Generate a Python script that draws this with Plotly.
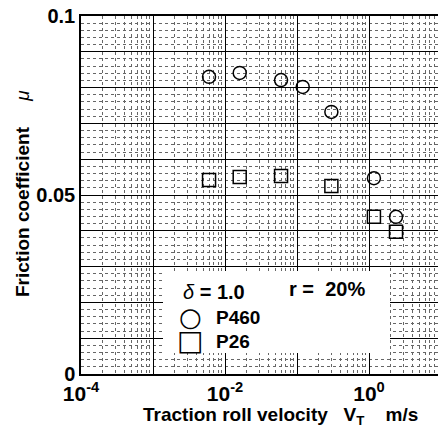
import plotly.graph_objects as go

# Data
p460_v = [0.006, 0.016, 0.06, 0.12, 0.30, 1.17, 2.37]
p460_mu = [0.0830, 0.0841, 0.0821, 0.0802, 0.0732, 0.0547, 0.0439]
p26_v = [0.006, 0.016, 0.06, 0.30, 1.17, 2.37]
p26_mu = [0.0542, 0.0550, 0.0553, 0.0525, 0.0439, 0.0397]

x_major_exp = [-4, -3, -2, -1, 0, 1]
x_major_text = ["<b>10<sup>-4</sup></b>", "", "<b>10<sup>-2</sup></b>", "", "<b>10<sup>0</sup></b>", ""]
y_major = [0, 0.01, 0.02, 0.03, 0.04, 0.05, 0.06, 0.07, 0.08, 0.09, 0.1]
y_major_text = ["<b>0</b>", "", "", "", "", "<b>0.05</b>", "", "", "", "", "<b>0.1</b>"]

FONT = "Liberation Sans"

fig = go.Figure()
fig.add_trace(go.Scatter(x=p460_v, y=p460_mu, mode="markers", name="P460",
                         marker=dict(symbol="circle-open", size=13, color="black",
                                     line=dict(width=1.5, color="black"))))
fig.add_trace(go.Scatter(x=p26_v, y=p26_mu, mode="markers", name="P26",
                         marker=dict(symbol="square-open", size=13, color="black",
                                     line=dict(width=1.5, color="black"))))

minor_x = [m * 10 ** e for e in range(-4, 1) for m in range(2, 10)]

fig.update_xaxes(type="log", range=[-4, 0.958],
                 tickmode="array", tickvals=[10 ** e for e in x_major_exp], ticktext=x_major_text,
                 showgrid=True, gridcolor="black", gridwidth=1.3,
                 showline=True, linecolor="black", linewidth=1.5, mirror=True,
                 ticks="", zeroline=False,
                 tickfont=dict(family=FONT, size=21, color="black"),
                 minor=dict(tickmode="array", tickvals=minor_x, showgrid=True,
                            gridcolor="#666", griddash="dot", gridwidth=1))
fig.update_yaxes(range=[0, 0.1], tickmode="array", tickvals=y_major, ticktext=y_major_text,
                 showgrid=True, gridcolor="black", gridwidth=1.3,
                 showline=True, linecolor="black", linewidth=1.5, mirror=False,
                 ticks="", zeroline=False,
                 tickfont=dict(family=FONT, size=20, color="black"),
                 minor=dict(dtick=0.002, showgrid=True, gridcolor="#666",
                            griddash="dot", gridwidth=1))

# legend box
fig.add_shape(type="rect", xref="paper", yref="paper",
              x0=(163 - 81) / 357, x1=(390 - 81) / 357,
              y0=(374 - 353) / 358, y1=(374 - 271) / 358,
              fillcolor="white", line=dict(width=0), layer="above")

def ann(text, x, y, size=18, xanchor="left", family=FONT):
    fig.add_annotation(text=text, xref="paper", yref="paper",
                       x=(x - 81) / 357, y=(374 - y) / 358, showarrow=False,
                       xanchor=xanchor, yanchor="middle",
                       font=dict(family=family, size=size, color="black"))

ann("<i>δ</i><b> = 1.0</b>", 181, 292, 20)
ann("<b>r =  20%</b>", 287, 289, 20)
ann("○", 190, 317, 26, "center", "DejaVu Sans")
ann("<b>P460</b>", 214, 317, 19)
ann("□", 190, 340, 28, "center", "DejaVu Sans")
ann("<b>P26</b>", 214, 341, 19)

# axis titles
fig.add_annotation(text="<b>Traction roll velocity   V<sub>T</sub>    m/s</b>", xref="paper", yref="paper",
                   x=(280 - 81) / 357, y=(374 - 416) / 358, showarrow=False,
                   xanchor="center", yanchor="middle",
                   font=dict(family=FONT, size=19, color="black"))
fig.add_annotation(text="<b>Friction coefficient</b>\u00a0\u00a0\u00a0\u00a0\u00a0<i>μ</i>", xref="paper", yref="paper",
                   x=(22 - 81) / 357, y=(374 - 194) / 358, showarrow=False,
                   xanchor="center", yanchor="middle", textangle=-90,
                   font=dict(family=FONT, size=19, color="black"))

fig.update_layout(width=438, height=428, margin=dict(l=81, r=0, t=16, b=54),
                  plot_bgcolor="white", paper_bgcolor="white", showlegend=False,
                  font=dict(family=FONT, color="black"))

fig.write_html("out.html")
